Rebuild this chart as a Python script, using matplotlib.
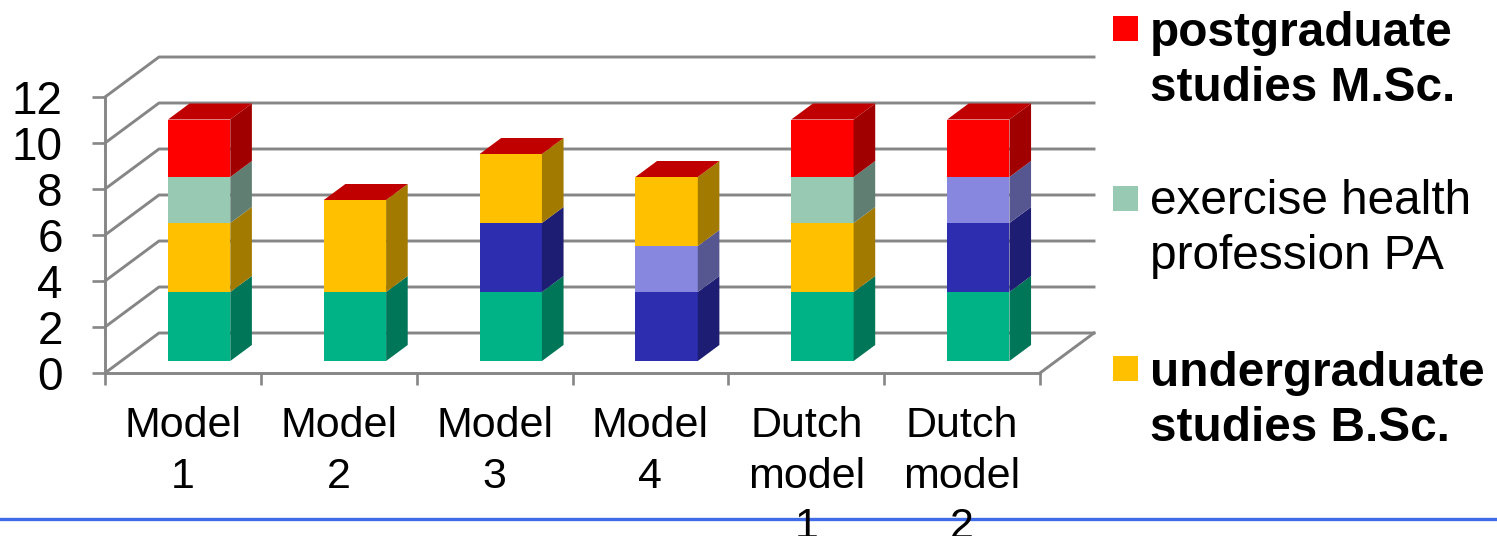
import numpy as np
import matplotlib
matplotlib.use('agg')
import matplotlib.pyplot as plt
from matplotlib.lines import Line2D
from matplotlib.patches import Polygon, Rectangle

plt.rcParams['font.family'] = ['Liberation Sans', 'DejaVu Sans']

categories = ['Model\n1', 'Model\n2', 'Model\n3', 'Model\n4', 'Dutch\nmodel\n1', 'Dutch\nmodel\n2']

# Stack order from the floor upwards
green = [3, 3, 3, 0, 3, 3]
blue = [0, 0, 3, 3, 0, 3]
purple = [0, 0, 0, 2, 0, 2]
orange = [3, 4, 3, 3, 3, 0]
teal = [2, 0, 0, 0, 2, 0]
red = [2.5, 0, 0, 0, 2.5, 2.5]

series = [green, blue, purple, orange, teal, red]
front_colors = ['#00B386', '#2D2DAF', '#8787E0', '#FFC000', '#98C9B3', '#FF0000']
side_colors = ['#007658', '#1D1D73', '#565690', '#A37A00', '#607F72', '#A00000']
top_color = '#C00000'

legend_labels = ['postgraduate\nstudies M.Sc.', 'exercise health\nprofession PA', 'undergraduate\nstudies B.Sc.']
legend_colors = ['#FF0000', '#98C9B3', '#FFC000']
legend_weights = ['bold', 'normal', 'bold']

W, H = 1497, 536
GRID = '#868686'
fig = plt.figure(figsize=(W / 100, H / 100), dpi=100)

# Front plane of the box, in pixels
left, right, y_zero, y_top = 105, 1040, 373, 97
ax = fig.add_axes([left / W, 1 - y_zero / H, (right - left) / W, (y_zero - y_top) / H])
ax.patch.set_visible(False)
n = len(categories)
ax.set_xlim(0, n)
ax.set_ylim(0, 12)

# One unit of depth moves a point this far in data units
depth_x = 54 / ((right - left) / n)
depth_y = 40 / ((y_zero - y_top) / 12)


def project(x, y, d):
    return (x + d * depth_x, y + d * depth_y)


# Walls and floor
for v in range(0, 13, 2):
    x0, y0 = project(0, v, 0)
    x1, y1 = project(0, v, 1)
    x2, y2 = project(n, v, 1)
    ax.plot([x0, x1, x2], [y0, y1, y2], color=GRID, lw=2.1, clip_on=False, zorder=1)
x0, y0 = project(n, 0, 0)
x1, y1 = project(n, 0, 1)
ax.plot([x0, x1], [y0, y1], color=GRID, lw=2.1, clip_on=False, zorder=1)

# Stacked bars
bar_w = 0.40
d0, d1 = 0.3, 0.7
bottoms = np.zeros(n)
for s, (vals, fc, sc) in enumerate(zip(series, front_colors, side_colors)):
    for i, v in enumerate(vals):
        if v == 0:
            continue
        xa = i + 0.5 - bar_w / 2
        xb = i + 0.5 + bar_w / 2
        b = bottoms[i]
        t = b + v
        ax.add_patch(Polygon([project(xa, b, d0), project(xb, b, d0), project(xb, t, d0), project(xa, t, d0)],
                             fc=fc, ec='none', clip_on=False, zorder=3))
        ax.add_patch(Polygon([project(xb, b, d0), project(xb, b, d1), project(xb, t, d1), project(xb, t, d0)],
                             fc=sc, ec='none', clip_on=False, zorder=3))
    bottoms = bottoms + np.array(vals)

# The cap always takes the colour of the topmost series
for i, t in enumerate(bottoms):
    xa = i + 0.5 - bar_w / 2
    xb = i + 0.5 + bar_w / 2
    ax.add_patch(Polygon([project(xa, t, d0), project(xb, t, d0), project(xb, t, d1), project(xa, t, d1)],
                         fc=top_color, ec='none', clip_on=False, zorder=3))

# Axes
for side in ['top', 'right']:
    ax.spines[side].set_visible(False)
for side in ['left', 'bottom']:
    ax.spines[side].set_color(GRID)
    ax.spines[side].set_linewidth(2.1)
    ax.spines[side].set_zorder(2)

ax.set_yticks(range(0, 13, 2))
ax.tick_params(axis='y', length=9.4, width=1.9, color=GRID, labelsize=33, pad=21)
ax.set_xticks(range(n + 1), [''] * (n + 1))
ax.tick_params(axis='x', which='major', length=8.6, width=1.9, color=GRID)
ax.set_xticks(np.arange(n) + 0.5, categories, minor=True)
ax.tick_params(axis='x', which='minor', length=0, labelsize=31, pad=24)
for lab in ax.get_xticklabels(minor=True):
    lab.set_linespacing(1.33)

# Legend, only the upper entries fit
swatch_y = [16, 186, 356]
text_y = [11, 179, 351]
for label, color, weight, sy, ty in zip(legend_labels, legend_colors, legend_weights, swatch_y, text_y):
    fig.add_artist(Rectangle((1113 / W, 1 - (sy + 25) / H), 25 / W, 25 / H, fc=color, ec='none',
                             transform=fig.transFigure))
    fig.text(1150 / W, 1 - ty / H, label, fontsize=34.4, fontweight=weight, va='top', ha='left',
             linespacing=1.29, color='black')

# Blue rule near the bottom edge
fig.add_artist(Line2D([0, 1], [1 - 519 / H, 1 - 519 / H], color='#3F6BE8', lw=2.4,
                      transform=fig.transFigure, zorder=-1))

fig.savefig('out.png', dpi=100)
